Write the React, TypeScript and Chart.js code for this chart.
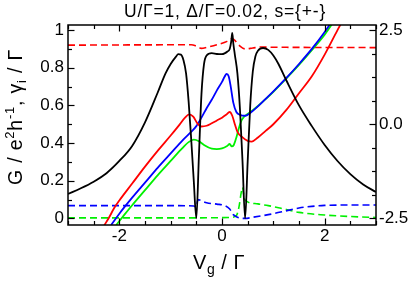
import React, { useEffect, useRef } from 'react';
import { Chart, registerables } from 'chart.js';

Chart.register(...registerables);

// ---------- data ----------
const gX = [-3, -2.75, -2.5, -2.25, -2, -1.75, -1.5, -1.25, -1.1, -1.0, -0.9, -0.85, -0.8, -0.75, -0.7, -0.65, -0.6, -0.55, -0.5, -0.45, -0.4, -0.35, -0.3, -0.2, -0.1, 0, 0.05, 0.1, 0.15, 0.18, 0.2, 0.22, 0.25, 0.3, 0.35, 0.4, 0.45, 0.5, 0.55, 0.6, 0.65, 0.7, 0.8, 0.9, 1.0, 1.1, 1.25, 1.5, 1.75, 2.0, 2.25, 2.5, 2.75, 3];
const gY = [0.13, 0.16, 0.195, 0.24, 0.305, 0.385, 0.51, 0.67, 0.77, 0.82, 0.858, 0.872, 0.87, 0.84, 0.77, 0.62, 0.42, 0.2, 0.0, 0.33, 0.66, 0.82, 0.865, 0.878, 0.873, 0.872, 0.876, 0.885, 0.9, 0.94, 0.985, 0.93, 0.87, 0.77, 0.58, 0.3, 0.0, 0.3, 0.6, 0.78, 0.86, 0.89, 0.905, 0.895, 0.865, 0.82, 0.735, 0.6, 0.49, 0.39, 0.305, 0.235, 0.18, 0.14];

const redX = [-2.3, -2.2, -2.1, -2.0, -1.75, -1.5, -1.25, -1.0, -0.85, -0.72, -0.64, -0.56, -0.48, -0.4, -0.3, -0.2, -0.1, 0, 0.08, 0.15, 0.2, 0.25, 0.3, 0.4, 0.5, 0.58, 0.7, 0.85, 1.0, 1.25, 1.5, 1.75, 2.0, 2.25, 2.45];
const redY = [-0.04, 0.005, 0.055, 0.095, 0.185, 0.275, 0.36, 0.44, 0.49, 0.535, 0.552, 0.54, 0.505, 0.488, 0.492, 0.505, 0.52, 0.535, 0.55, 0.565, 0.545, 0.5, 0.46, 0.43, 0.412, 0.408, 0.43, 0.465, 0.5, 0.575, 0.665, 0.755, 0.87, 1.0, 1.1];

const blueX = [-2.16, -2.0, -1.75, -1.5, -1.25, -1.0, -0.75, -0.6, -0.5, -0.4, -0.3, -0.2, -0.1, 0, 0.05, 0.09, 0.13, 0.17, 0.22, 0.28, 0.35, 0.45, 0.55, 0.7, 0.85, 1.0, 1.25, 1.5, 1.75, 2.0, 2.2];
const blueY = [-0.035, 0.025, 0.11, 0.19, 0.27, 0.345, 0.42, 0.46, 0.49, 0.535, 0.585, 0.63, 0.68, 0.725, 0.752, 0.768, 0.755, 0.7, 0.615, 0.565, 0.55, 0.545, 0.56, 0.595, 0.635, 0.675, 0.745, 0.82, 0.9, 0.99, 1.07];

const greenX = [-2.06, -1.9, -1.75, -1.5, -1.25, -1.0, -0.8, -0.65, -0.55, -0.45, -0.35, -0.2, -0.1, 0, 0.1, 0.15, 0.19, 0.23, 0.28, 0.33, 0.38, 0.43, 0.5, 0.6, 0.7, 0.85, 1.0, 1.25, 1.5, 1.75, 2.0, 2.2];
const greenY = [-0.035, 0.02, 0.07, 0.15, 0.23, 0.305, 0.365, 0.405, 0.418, 0.41, 0.39, 0.37, 0.368, 0.372, 0.385, 0.395, 0.382, 0.39, 0.43, 0.48, 0.52, 0.54, 0.555, 0.575, 0.597, 0.633, 0.672, 0.742, 0.815, 0.893, 0.975, 1.055];

const redDashX = [-3, -0.6, -0.5, -0.4, -0.3, -0.1, 0.1, 0.2, 0.25, 0.35, 0.45, 0.6, 0.75, 1.0, 3];
const redDashY = [0.92, 0.922, 0.915, 0.903, 0.908, 0.922, 0.94, 0.955, 0.945, 0.915, 0.9, 0.905, 0.91, 0.909, 0.907];

const blueDashX = [-3, -1.0, -0.55, -0.5, -0.47, -0.42, -0.3, -0.1, 0.05, 0.15, 0.22, 0.3, 0.45, 0.6, 0.8, 1.0, 1.25, 1.5, 1.75, 2.0, 2.5, 3];
const blueDashY = [0.068, 0.068, 0.066, 0.06, 0.1, 0.096, 0.083, 0.076, 0.068, 0.05, 0.02, 0.006, 0.0, 0.006, 0.015, 0.025, 0.04, 0.055, 0.064, 0.069, 0.071, 0.071];

const greenDashX = [-3, -0.5, 0.0, 0.2, 0.28, 0.33, 0.37, 0.4, 0.43, 0.5, 0.7, 0.9, 1.13, 1.5, 2.0, 2.5, 3];
const greenDashY = [0.003, 0.003, 0.004, 0.006, 0.015, 0.06, 0.13, 0.165, 0.11, 0.088, 0.077, 0.068, 0.055, 0.032, 0.018, 0.01, 0.005];

// ---------- axes / text ----------
const xTickLabels = [-2, 0, 2];
const leftTickLabels = [0, 0.2, 0.4, 0.6, 0.8, 1];
const rightTickLabels = [-2.5, 0, 2.5];
const xMinorStep = 0.5;
const leftMinorStep = 0.1;
const rightMinorStep = 0.625;
const titleText = 'U/Γ=1, Δ/Γ=0.02, s={+-}';

const FONT = "'Liberation Sans', Arial, Helvetica, sans-serif";

const pts = (xs: number[], ys: number[]) => xs.map((x, i) => ({ x, y: ys[i] }));

const framePlugin = {
  id: 'frameTicks',
  afterDatasetsDraw(chart: any) {
    const { ctx, chartArea: a, scales } = chart;
    ctx.save();
    ctx.strokeStyle = '#000';
    ctx.lineWidth = 1.2;
    const isMajor = (arr: number[], v: number) => arr.some((m) => Math.abs(m - v) < 1e-6);
    const xs = scales.x;
    for (let v = xs.min; v <= xs.max + 1e-9; v += xMinorStep) {
      const p = Math.round(xs.getPixelForValue(v)) + 0.5;
      const len = isMajor(xTickLabels, v) ? 6.5 : 4;
      ctx.beginPath();
      ctx.moveTo(p, a.bottom); ctx.lineTo(p, a.bottom - len);
      ctx.moveTo(p, a.top); ctx.lineTo(p, a.top + len);
      ctx.stroke();
    }
    const yl = scales.y;
    for (let k = 0; k <= 10; k++) {
      const v = k * leftMinorStep;
      const p = Math.round(yl.getPixelForValue(v)) + 0.5;
      const len = isMajor(leftTickLabels, v) ? 6.5 : 4;
      ctx.beginPath();
      ctx.moveTo(a.left, p); ctx.lineTo(a.left + len, p);
      ctx.stroke();
    }
    const yr = scales.y2;
    for (let k = 0; k <= 8; k++) {
      const v = -2.5 + k * rightMinorStep;
      const p = Math.round(yr.getPixelForValue(v)) + 0.5;
      const len = isMajor(rightTickLabels, v) ? 6.5 : 4;
      ctx.beginPath();
      ctx.moveTo(a.right, p); ctx.lineTo(a.right - len, p);
      ctx.stroke();
    }
    ctx.lineWidth = 1.5;
    ctx.strokeRect(a.left, a.top, a.right - a.left, a.bottom - a.top);
    ctx.restore();
  },
  afterDraw(chart: any) {
    const { ctx } = chart;
    ctx.save();
    ctx.fillStyle = '#000';
    // main title
    ctx.font = `17.5px ${FONT}`;
    (ctx as any).letterSpacing = '0.8px';
    ctx.textAlign = 'center';
    ctx.textBaseline = 'alphabetic';
    ctx.fillText(titleText, 225, 17);

    // x title: V_g / Γ
    ctx.textAlign = 'left';
    (ctx as any).letterSpacing = '0.5px';
    const xParts: [string, number, number][] = [
      ['V', 20, 0], ['g', 14, 5], [' / Γ', 20, 0],
    ];
    let total = 0;
    for (const [t, s] of xParts) { ctx.font = `${s}px ${FONT}`; total += ctx.measureText(t).width; }
    let cx = 219 - total / 2;
    for (const [t, s, dy] of xParts) {
      ctx.font = `${s}px ${FONT}`;
      ctx.fillText(t, cx, 269 + dy);
      cx += ctx.measureText(t).width;
    }

    // y title: G / e^2 h^-1, γ_i / Γ (rotated)
    (ctx as any).letterSpacing = '0.8px';
    const yParts: [string, number, number][] = [
      ['G / e', 19.5, 0], ['2', 13, -8.5], ['h', 19.5, 0], ['-1', 13, -8.5], [', γ', 19.5, 0], ['i', 13, 4], [' / Γ', 19.5, 0],
    ];
    total = 0;
    for (const [t, s] of yParts) { ctx.font = `${s}px ${FONT}`; total += ctx.measureText(t).width; }
    ctx.translate(22, 117 + total / 2);
    ctx.rotate(-Math.PI / 2);
    let px = 0;
    for (const [t, s, dy] of yParts) {
      ctx.font = `${s}px ${FONT}`;
      ctx.fillText(t, px, dy);
      px += ctx.measureText(t).width;
    }
    ctx.restore();
  },
};

export default function App() {
  const ref = useRef<HTMLCanvasElement | null>(null);
  useEffect(() => {
    if (!ref.current) return;
    const solid = (label: string, xs: number[], ys: number[], color: string) => ({
      label, data: pts(xs, ys), borderColor: color, borderWidth: 1.8, pointRadius: 0,
      cubicInterpolationMode: 'monotone' as const, fill: false,
    });
    const dashed = (label: string, xs: number[], ys: number[], color: string) => ({
      label, data: pts(xs, ys), borderColor: color, borderWidth: 1.6, pointRadius: 0,
      borderDash: [7, 4], cubicInterpolationMode: 'monotone' as const, fill: false,
    });
    const tickFont = { family: FONT, size: 17 };
    const chart = new Chart(ref.current, {
      type: 'line',
      data: {
        datasets: [
          solid('G', gX, gY, '#000000'),
          solid('red', redX, redY, '#ff0000'),
          solid('blue', blueX, blueY, '#0000ff'),
          solid('green', greenX, greenY, '#00f000'),
          dashed('red dashed', redDashX, redDashY, '#ff0000'),
          dashed('blue dashed', blueDashX, blueDashY, '#0000ff'),
          dashed('green dashed', greenDashX, greenDashY, '#00f000'),
        ],
      },
      options: {
        animation: false,
        responsive: false,
        maintainAspectRatio: false,
        layout: { padding: { top: 25, left: 0, right: 0, bottom: 0 } },
        plugins: { legend: { display: false }, tooltip: { enabled: false }, title: { display: false } },
        scales: {
          x: {
            type: 'linear', position: 'bottom', min: -3, max: 3,
            grid: { display: false, drawTicks: false }, border: { display: false },
            afterBuildTicks: (s: any) => { s.ticks = xTickLabels.map((v) => ({ value: v })); },
            afterFit: (s: any) => { s.height = 59; },
            ticks: { font: tickFont, color: '#000', padding: 1, maxRotation: 0, autoSkip: false },
          },
          y: {
            type: 'linear', position: 'left', min: -0.035, max: 1.027,
            grid: { display: false, drawTicks: false }, border: { display: false },
            afterBuildTicks: (s: any) => { s.ticks = leftTickLabels.map((v) => ({ value: v })); },
            afterFit: (s: any) => { s.width = 68; },
            ticks: {
              font: tickFont, color: '#000', padding: 4, autoSkip: false,
              callback: (v: any) => String(Number(v)),
            },
          },
          y2: {
            type: 'linear', position: 'right', min: -2.675, max: 2.633,
            grid: { display: false, drawTicks: false }, border: { display: false },
            afterBuildTicks: (s: any) => { s.ticks = rightTickLabels.map((v) => ({ value: v })); },
            afterFit: (s: any) => { s.width = 35; },
            ticks: {
              font: tickFont, color: '#000', padding: 3, autoSkip: false,
              callback: (v: any) => Number(v).toFixed(1),
            },
          },
        },
      },
      plugins: [framePlugin],
    } as any);
    return () => chart.destroy();
  }, []);
  return (
    <div style={{ position: 'absolute', left: 0, top: 0, width: 411, height: 284 }}>
      <canvas ref={ref} width={411} height={284} style={{ display: 'block' }} />
    </div>
  );
}
